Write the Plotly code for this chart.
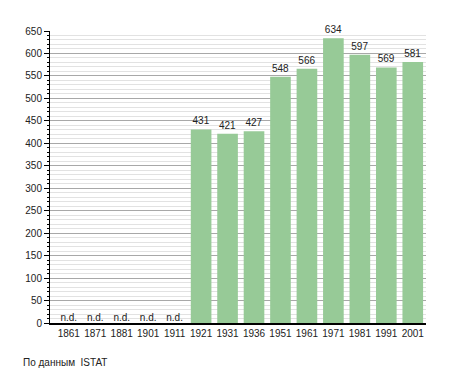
import plotly.graph_objects as go

years = ["1861", "1871", "1881", "1901", "1911", "1921", "1931", "1936",
         "1951", "1961", "1971", "1981", "1991", "2001"]
population = [None, None, None, None, None, 431, 421, 427, 548, 566, 634, 597, 569, 581]
nd_years = ["1861", "1871", "1881", "1901", "1911"]
nd_label = "n.d."
source_note = "По данным  ISTAT"

font_family = "Liberation Sans, Arial, sans-serif"

fig = go.Figure()
fig.add_trace(go.Bar(
    x=years, y=population,
    marker=dict(color="#97ca97", line=dict(width=0)),
    text=[str(v) if v is not None else "" for v in population],
    textposition="outside", cliponaxis=False,
    textfont=dict(size=10, color="#222222", family=font_family),
    hoverinfo="x+y",
))
fig.add_trace(go.Scatter(
    x=nd_years, y=[0] * len(nd_years), mode="text",
    text=[nd_label] * len(nd_years), textposition="top center",
    textfont=dict(size=10, color="#222222", family=font_family),
    hoverinfo="skip", cliponaxis=False,
))

fig.update_layout(
    width=447, height=365,
    margin=dict(l=42, r=29, t=23, b=50, autoexpand=False),
    plot_bgcolor="white", paper_bgcolor="white",
    showlegend=False, bargap=0.22,
    font=dict(family=font_family, size=10, color="#222222"),
    xaxis=dict(
        type="category", showline=True, linecolor="black", linewidth=1.5,
        ticks="", showgrid=False, tickfont=dict(size=10), ticklen=0,
    ),
    yaxis=dict(
        range=[0, 650], dtick=50, showline=True, linecolor="black", linewidth=1,
        ticks="outside", ticklen=5, tickcolor="black",
        showgrid=True, gridcolor="#a8a8a8", gridwidth=1,
        zeroline=False, tickfont=dict(size=10),
        minor=dict(dtick=10, showgrid=True, gridcolor="#e2e2e2", gridwidth=1,
                   ticks="outside", ticklen=2, tickcolor="black"),
    ),
    annotations=[dict(
        text=source_note, xref="paper", yref="paper", x=-0.077, y=-0.134,
        xanchor="left", yanchor="middle", showarrow=False,
        font=dict(size=10, color="#222222", family=font_family),
    )],
)

fig.write_html("out.html")
